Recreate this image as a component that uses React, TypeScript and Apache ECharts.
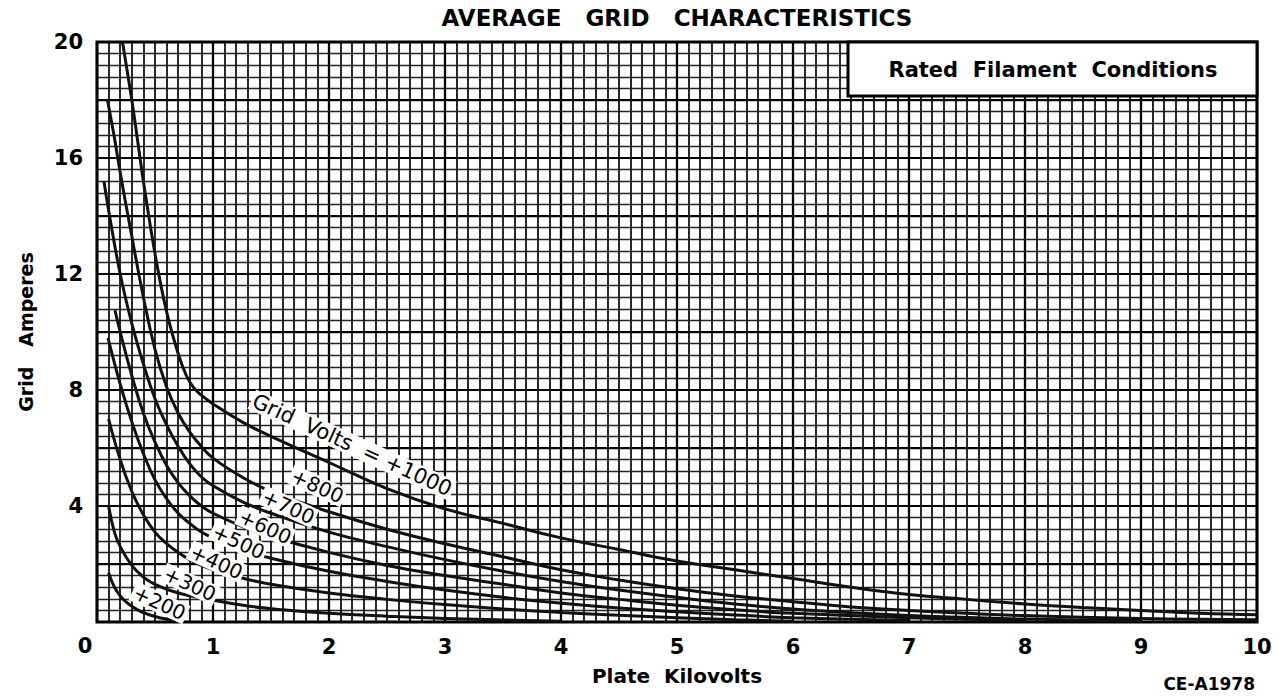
import React, { useEffect, useRef } from "react";
import * as echarts from "echarts";

// Plate kilovolts vs grid amperes for each grid voltage
const v1000: [number, number][] = [
  [0.22, 20], [0.3, 18.0], [0.35, 16.6], [0.4, 15.2], [0.5, 12.7], [0.6, 10.7], [0.7, 9.25], [0.77, 8.5],
  [0.83, 8.1], [0.9, 7.82], [1.0, 7.52], [1.25, 6.9], [1.5, 6.4], [2.0, 5.5], [2.5, 4.6], [3.0, 3.9],
  [3.5, 3.4], [4.0, 2.9], [4.5, 2.5], [5.0, 2.1], [5.5, 1.8], [6.0, 1.5], [6.5, 1.2], [7.0, 0.95],
  [7.5, 0.78], [8.0, 0.62], [8.5, 0.5], [9.0, 0.4], [9.5, 0.3], [10, 0.25],
];
const v800: [number, number][] = [
  [0.09, 18.0], [0.15, 16.7], [0.2, 15.5], [0.3, 13.3], [0.4, 11.2], [0.5, 9.4], [0.6, 8.1], [0.7, 7.2],
  [0.8, 6.55], [0.9, 6.05], [1.0, 5.65], [1.25, 5.0], [1.5, 4.5], [2.0, 3.8], [2.5, 3.2], [3.0, 2.7],
  [3.5, 2.25], [4.0, 1.8], [4.5, 1.45], [5.0, 1.15], [5.5, 0.9], [6.0, 0.7], [6.5, 0.52], [7.0, 0.4],
  [7.5, 0.3], [8.0, 0.22], [9.0, 0.12], [10, 0.08],
];
const v700: [number, number][] = [
  [0.06, 15.2], [0.1, 14.2], [0.2, 12.0], [0.3, 10.3], [0.4, 8.9], [0.5, 7.7], [0.6, 6.8], [0.7, 6.05],
  [0.8, 5.45], [0.9, 5.0], [1.0, 4.7], [1.25, 4.15], [1.5, 3.75], [2.0, 3.1], [2.5, 2.6], [3.0, 2.15],
  [3.5, 1.75], [4.0, 1.4], [4.5, 1.1], [5.0, 0.85], [5.5, 0.62], [6.0, 0.45], [6.5, 0.32], [7.0, 0.22],
  [8.0, 0.1], [9.0, 0.05],
];
const v600: [number, number][] = [
  [0.155, 10.75], [0.2, 10.0], [0.3, 8.5], [0.4, 7.2], [0.5, 6.2], [0.6, 5.4], [0.7, 4.8], [0.8, 4.35],
  [0.9, 4.0], [1.0, 3.75], [1.25, 3.3], [1.5, 2.95], [2.0, 2.4], [2.5, 1.95], [3.0, 1.6], [3.5, 1.3],
  [4.0, 1.0], [4.5, 0.78], [5.0, 0.58], [5.5, 0.42], [6.0, 0.3], [7.0, 0.15], [8.0, 0.06],
];
const v500: [number, number][] = [
  [0.095, 9.8], [0.2, 8.2], [0.3, 6.9], [0.4, 5.8], [0.5, 4.9], [0.6, 4.25], [0.7, 3.75], [0.8, 3.4],
  [0.9, 3.1], [1.0, 2.9], [1.25, 2.5], [1.5, 2.2], [2.0, 1.75], [2.5, 1.4], [3.0, 1.1], [3.5, 0.85],
  [4.0, 0.65], [4.5, 0.48], [5.0, 0.35], [5.5, 0.24], [6.0, 0.15], [7.0, 0.05],
];
const v400: [number, number][] = [
  [0.1, 7.0], [0.2, 5.6], [0.3, 4.5], [0.4, 3.7], [0.5, 3.1], [0.6, 2.7], [0.7, 2.4], [0.8, 2.15],
  [0.9, 1.95], [1.0, 1.8], [1.25, 1.52], [1.5, 1.3], [2.0, 1.0], [2.5, 0.78], [3.0, 0.6], [3.5, 0.45],
  [4.0, 0.33], [4.5, 0.23], [5.0, 0.15], [5.5, 0.08], [6.0, 0.03],
];
const v300: [number, number][] = [
  [0.1, 4.0], [0.15, 3.1], [0.2, 2.6], [0.3, 1.95], [0.4, 1.55], [0.5, 1.3], [0.7, 1.0], [1.0, 0.75],
  [1.3, 0.55], [1.6, 0.42], [2.0, 0.3], [2.5, 0.2], [3.0, 0.12], [3.5, 0.07], [4.0, 0.03],
];
const v200: [number, number][] = [
  [0.1, 1.7], [0.15, 1.2], [0.2, 0.9], [0.26, 0.66], [0.35, 0.42], [0.45, 0.25], [0.55, 0.14],
  [0.65, 0.07], [0.75, 0.03],
];

const curves = [v1000, v800, v700, v600, v500, v400, v300, v200];
const curveNames = ["+1000", "+800", "+700", "+600", "+500", "+400", "+300", "+200"];

// curve label texts and their anchor positions (kV, A)
const labelTexts = ["Grid  Volts  = +1000", "+800", "+700", "+600", "+500", "+400", "+300", "+200"];
const labelAnchors: [number, number][] = [
  [2.2, 6.1], [1.9, 4.69], [1.65, 3.97], [1.45, 3.28], [1.22, 2.76], [1.03, 2.07], [0.8, 1.31], [0.54, 0.66],
];

const FONT = "DejaVu Sans";

export default function App() {
  const ref = useRef<HTMLDivElement>(null);
  useEffect(() => {
    if (!ref.current) return;
    const chart = echarts.init(ref.current, undefined, { renderer: "svg" });
    const option: any = {
      animation: false,
      backgroundColor: "#fff",
      grid: {
        left: 97, top: 42, width: 1160, height: 580,
        outerBoundsMode: "none", containLabel: false,
        show: true, borderColor: "#000", borderWidth: 3, backgroundColor: "#fff",
      },
      xAxis: {
        type: "value", min: 0, max: 10, interval: 1,
        axisLine: { show: false }, axisTick: { show: false },
        axisLabel: {
          margin: 14, fontSize: 21, fontWeight: "bold", fontFamily: FONT, color: "#000",
          formatter: (v: number) => (v === 0 ? "" : String(v)),
        },
        splitLine: { show: true, lineStyle: { color: "#000", width: 2.3 } },
        minorTick: { show: false, splitNumber: 10 },
        minorSplitLine: { show: true, lineStyle: { color: "#111", width: 1.8 } },
        name: "Plate  Kilovolts", nameLocation: "middle", nameGap: 44,
        nameTextStyle: { fontSize: 20, fontWeight: "bold", fontFamily: FONT, color: "#000" },
      },
      yAxis: [
        {
          type: "value", min: 0, max: 20, interval: 4,
          axisLine: { show: false }, axisTick: { show: false },
          axisLabel: {
            margin: 14, fontSize: 21, fontWeight: "bold", fontFamily: FONT, color: "#000",
            formatter: (v: number) => (v === 0 ? "" : String(v)),
          },
          splitLine: { show: true, lineStyle: { color: "#000", width: 2.2 } },
          minorTick: { show: false, splitNumber: 10 },
          minorSplitLine: { show: true, lineStyle: { color: "#222", width: 1.4 } },
          name: "Grid   Amperes", nameLocation: "middle", nameGap: 62,
          nameTextStyle: { fontSize: 19, fontWeight: "bold", fontFamily: FONT, color: "#000" },
        },
        {
          type: "value", min: 0, max: 20, interval: 2, show: true,
          axisLine: { show: false }, axisTick: { show: false }, axisLabel: { show: false },
          splitLine: { show: true, lineStyle: { color: "#000", width: 2.2 } },
        },
      ],
      series: curves.map((d, i) => ({
        name: curveNames[i],
        type: "line",
        data: d,
        yAxisIndex: 0,
        showSymbol: false,
        smooth: 0.45,
        lineStyle: { color: "#111", width: 3 },
        z: 5,
      })),
    };
    chart.setOption(option);

    const labelGraphics = labelTexts.map((t, i) => {
      const p = chart.convertToPixel({ gridIndex: 0 }, labelAnchors[i]) as number[];
      return {
        type: "text",
        x: p[0], y: p[1],
        rotation: -0.43,
        z: 10,
        style: {
          text: t,
          x: 0, y: 0,
          align: "center", verticalAlign: "middle",
          fontSize: i === 0 ? 21 : 20, fontFamily: FONT,
          fill: "#000",
          backgroundColor: "#fff",
          padding: [0, 2],
        },
      };
    });

    chart.setOption({
      graphic: [
        {
          type: "text", x: 677, y: 18, z: 10,
          style: {
            text: "AVERAGE   GRID   CHARACTERISTICS", align: "center", verticalAlign: "middle",
            fontSize: 23, fontWeight: "bold", fontFamily: FONT, fill: "#000",
          },
        },
        {
          type: "rect", z: 10,
          shape: { x: 848, y: 42, width: 409, height: 54 },
          style: { fill: "#fff", stroke: "#000", lineWidth: 3 },
        },
        {
          type: "text", x: 1053, y: 70, z: 11,
          style: {
            text: "Rated  Filament  Conditions", align: "center", verticalAlign: "middle",
            fontSize: 21, fontWeight: "bold", fontFamily: FONT, fill: "#000",
          },
        },
        {
          type: "text", x: 85, y: 646, z: 10,
          style: {
            text: "0", align: "center", verticalAlign: "middle",
            fontSize: 21, fontWeight: "bold", fontFamily: FONT, fill: "#000",
          },
        },
        {
          type: "text", x: 1255, y: 684, z: 10,
          style: {
            text: "CE-A1978", align: "right", verticalAlign: "middle",
            fontSize: 17, fontWeight: "bold", fontFamily: FONT, fill: "#000",
          },
        },
        ...labelGraphics,
      ],
    });
    return () => chart.dispose();
  }, []);
  return (
    <div
      ref={ref}
      style={{ position: "fixed", left: 0, top: 0, width: 1279, height: 696 }}
    />
  );
}
